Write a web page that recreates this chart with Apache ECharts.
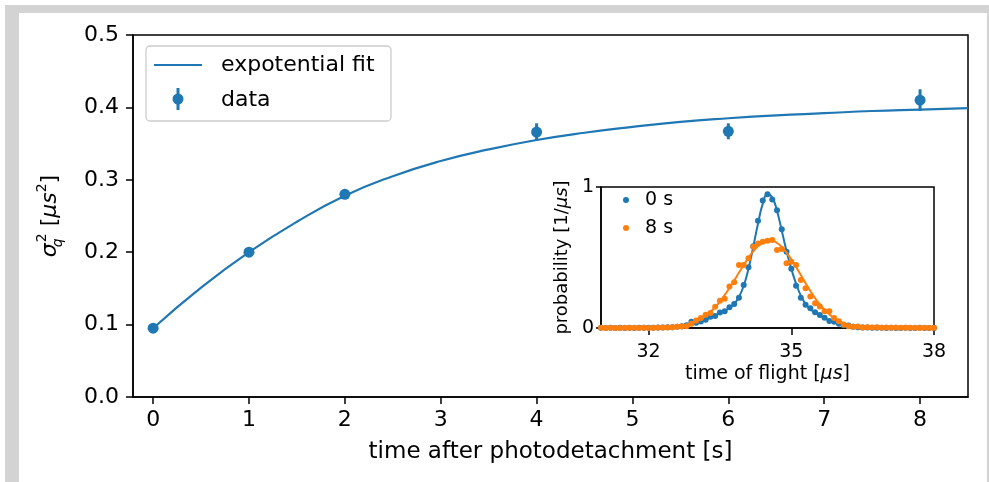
<!DOCTYPE html>
<html>
<head>
<meta charset="utf-8">
<script src="https://cdn.jsdelivr.net/npm/echarts@6/dist/echarts.min.js"></script>
<style>html,body{margin:0;padding:0;background:#fff}#c{width:989px;height:482px}</style>
</head>
<body>
<div id="c"></div>
<script>
// ---- main panel data ----
const mainT = [0, 1, 2, 4, 6, 8];
const mainY = [0.095, 0.200, 0.280, 0.366, 0.367, 0.410];
const mainErr = [0.003, 0.003, 0.004, 0.012, 0.011, 0.015];
const fitT = [0, 0.5, 1, 1.5, 2, 2.5, 3, 3.5, 4, 4.5, 5, 5.5, 6, 6.5, 7, 7.5, 8, 8.5];
const fitY = [0.095, 0.151, 0.200, 0.242, 0.278, 0.305, 0.326, 0.342, 0.355, 0.365, 0.373, 0.380, 0.385, 0.389, 0.392, 0.395, 0.397, 0.399];
const mainXTicks = [0, 1, 2, 3, 4, 5, 6, 7, 8];

// ---- inset data (time of flight distributions) ----
const tof = [31.0,31.1,31.2,31.3,31.4,31.5,31.6,31.7,31.8,31.9,
             32.0,32.1,32.2,32.3,32.4,32.5,32.6,32.7,32.8,32.9,
             33.0,33.1,33.2,33.3,33.4,33.5,33.6,33.7,33.8,33.9,
             34.0,34.1,34.2,34.3,34.4,34.5,34.6,34.7,34.8,34.9,
             35.0,35.1,35.2,35.3,35.4,35.5,35.6,35.7,35.8,35.9,
             36.0,36.1,36.2,36.3,36.4,36.5,36.6,36.7,36.8,36.9,
             37.0,37.1,37.2,37.3,37.4,37.5,37.6,37.7,37.8,37.9,
             38.0];
const p0s = [0.001,0.000,0.001,0.000,0.001,0.000,0.001,0.000,0.001,0.002,
             0.001,0.002,0.003,0.004,0.005,0.006,0.009,0.012,0.020,0.045,
             0.038,0.046,0.058,0.080,0.085,0.110,0.118,0.148,0.170,0.215,
             0.305,0.430,0.580,0.760,0.905,0.948,0.912,0.835,0.700,0.540,
             0.420,0.300,0.215,0.165,0.140,0.112,0.092,0.072,0.050,0.045,
             0.030,0.020,0.018,0.009,0.006,0.003,0.004,0.001,0.002,0.001,
             0.000,0.001,0.000,0.000,0.001,0.000,0.000,0.001,0.000,0.000,
             0.000];
const p0sFit = [0,0,0,0,0,0,0,0,0,0,
             0,0,0,0,0,0.005,0.008,0.013,0.019,0.027,
             0.036,0.047,0.060,0.074,0.089,0.105,0.122,0.143,0.172,0.220,
             0.300,0.420,0.575,0.740,0.880,0.950,0.925,0.830,0.690,0.545,
             0.420,0.315,0.230,0.170,0.132,0.108,0.088,0.070,0.055,0.042,
             0.031,0.022,0.015,0.010,0.006,0.004,0.002,0.001,0,0,
             0,0,0,0,0,0,0,0,0,0,
             0];
const p8s = [0.001,0.000,0.001,0.000,0.000,0.001,0.000,0.001,0.000,0.001,
             0.000,0.002,0.001,0.004,0.003,0.006,0.008,0.010,0.012,0.030,
             0.054,0.071,0.094,0.106,0.150,0.193,0.207,0.294,0.325,0.447,
             0.447,0.494,0.576,0.600,0.612,0.619,0.624,0.553,0.560,0.459,
             0.470,0.447,0.341,0.282,0.224,0.176,0.153,0.118,0.118,0.071,
             0.047,0.024,0.012,0.008,0.010,0.004,0.006,0.003,0.005,0.002,
             0.004,0.002,0.003,0.001,0.002,0.001,0.002,0.000,0.001,0.000,
             0.001];
const p8sFit = [0,0,0,0,0,0,0,0,0,0,
             0,0.001,0.002,0.003,0.004,0.007,0.010,0.015,0.023,0.033,
             0.046,0.064,0.086,0.115,0.148,0.188,0.234,0.284,0.337,0.393,
             0.447,0.498,0.543,0.580,0.605,0.618,0.618,0.603,0.575,0.535,
             0.487,0.433,0.376,0.318,0.263,0.212,0.167,0.128,0.096,0.070,
             0.049,0.034,0.022,0.014,0.009,0.005,0.003,0.002,0.001,0,
             0,0,0,0,0,0,0,0,0,0,
             0];
const insetXTicks = [32, 35, 38];

const BLUE = '#1f77b4', ORANGE = '#ff7f0e';
const FF = 'DejaVu Sans';

const chart = echarts.init(document.getElementById('c'), null, {renderer: 'canvas'});

const axisCommon = {
  axisLine: {show: true, onZero: false, lineStyle: {color: '#000', width: 1.5}},
  splitLine: {show: false},
  nameTextStyle: {color: '#000', fontFamily: FF}
};

const option = {
  backgroundColor: '#fff',
  animation: false,
  grid: [
    {left: 133, top: 35, width: 835, height: 362, show: true, borderColor: '#000', borderWidth: 1.5, backgroundColor: 'transparent'},
    {left: 601, top: 187, width: 333, height: 141, show: true, borderColor: '#000', borderWidth: 1.5, backgroundColor: '#fff'}
  ],
  xAxis: [
    Object.assign({}, axisCommon, {
      type: 'value', gridIndex: 0, min: -0.21, max: 8.5,
      axisTick: {show: true, length: 7, lineStyle: {color: '#000', width: 1.5}, customValues: mainXTicks},
      axisLabel: {customValues: mainXTicks, fontSize: 22, margin: 12, color: '#000', fontFamily: FF},
      name: 'time after photodetachment [s]', nameLocation: 'middle', nameGap: 44,
      nameTextStyle: {color: '#000', fontFamily: FF, fontSize: 23}
    }),
    Object.assign({}, axisCommon, {
      type: 'value', gridIndex: 1, min: 31, max: 38,
      axisTick: {show: true, length: 7, lineStyle: {color: '#000', width: 1.5}, customValues: insetXTicks},
      axisLabel: {customValues: insetXTicks, fontSize: 19, margin: 15, color: '#000', fontFamily: FF},
      name: 'time of flight [{it|μs}]', nameLocation: 'middle', nameGap: 37,
      nameTextStyle: {color: '#000', fontFamily: FF, fontSize: 19,
        rich: {it: {fontStyle: 'italic', fontSize: 19, fontFamily: FF, color: '#000'}}}
    })
  ],
  yAxis: [
    Object.assign({}, axisCommon, {
      type: 'value', gridIndex: 0, min: 0, max: 0.5, interval: 0.1,
      axisTick: {show: true, length: 7, lineStyle: {color: '#000', width: 1.5}},
      axisLabel: {fontSize: 22, margin: 14, color: '#000', fontFamily: FF, formatter: v => v.toFixed(1)},
      name: '{it|σ}{sub|q}{sup|2} [{it|μs}{sup|2}]', nameLocation: 'middle', nameGap: 68,
      nameTextStyle: {color: '#000', fontFamily: FF, fontSize: 22, lineHeight: 30,
        rich: {
          it: {fontStyle: 'italic', fontSize: 22, fontFamily: FF, color: '#000', lineHeight: 30},
          sub: {fontStyle: 'italic', fontSize: 14, fontFamily: FF, color: '#000', lineHeight: 14, verticalAlign: 'bottom', width: 1},
          sup: {fontSize: 14, fontFamily: FF, color: '#000', lineHeight: 14, verticalAlign: 'top'}
        }}
    }),
    Object.assign({}, axisCommon, {
      type: 'value', gridIndex: 1, min: 0, max: 1, interval: 1,
      axisTick: {show: true, length: 5, lineStyle: {color: '#000', width: 1.5}},
      axisLabel: {fontSize: 19, margin: 7, color: '#000', fontFamily: FF},
      name: 'probability [1/{it|μs}]', nameLocation: 'middle', nameGap: 30,
      nameTextStyle: {color: '#000', fontFamily: FF, fontSize: 18,
        rich: {it: {fontStyle: 'italic', fontSize: 18, fontFamily: FF, color: '#000'}}}
    })
  ],
  series: [
    {
      type: 'line', xAxisIndex: 0, yAxisIndex: 0, name: 'expotential fit',
      data: fitT.map((t, i) => [t, fitY[i]]), smooth: true, showSymbol: false,
      lineStyle: {color: BLUE, width: 2.2}, z: 3
    },
    {
      type: 'custom', xAxisIndex: 0, yAxisIndex: 0, name: 'data errors',
      data: mainT.map((t, i) => [t, mainY[i], mainErr[i]]),
      renderItem: function (params, api) {
        const x = api.value(0), y = api.value(1), e = api.value(2);
        const a = api.coord([x, y - e]), b = api.coord([x, y + e]);
        return {type: 'line', shape: {x1: a[0], y1: a[1], x2: b[0], y2: b[1]},
                style: {stroke: BLUE, lineWidth: 3}};
      }, z: 4
    },
    {
      type: 'scatter', xAxisIndex: 0, yAxisIndex: 0, name: 'data',
      data: mainT.map((t, i) => [t, mainY[i]]), symbolSize: 11,
      itemStyle: {color: BLUE, opacity: 1}, z: 5
    },
    {
      type: 'scatter', xAxisIndex: 1, yAxisIndex: 1, name: '0 s',
      data: tof.map((t, i) => [t, p0s[i]]), symbolSize: 6,
      itemStyle: {color: BLUE, opacity: 1}, z: 6
    },
    {
      type: 'line', xAxisIndex: 1, yAxisIndex: 1, name: '0 s fit',
      data: tof.map((t, i) => [t, p0sFit[i]]), smooth: true, showSymbol: false,
      lineStyle: {color: BLUE, width: 2}, z: 6
    },
    {
      type: 'scatter', xAxisIndex: 1, yAxisIndex: 1, name: '8 s',
      data: tof.map((t, i) => [t, p8s[i]]), symbolSize: 6,
      itemStyle: {color: ORANGE, opacity: 1}, z: 7
    },
    {
      type: 'line', xAxisIndex: 1, yAxisIndex: 1, name: '8 s fit',
      data: tof.map((t, i) => [t, p8sFit[i]]), smooth: true, showSymbol: false,
      lineStyle: {color: ORANGE, width: 2}, z: 7
    }
  ],
  graphic: [
    // grey frame
    {type: 'rect', shape: {x: 5, y: 5, width: 984, height: 8}, style: {fill: '#d3d3d3'}, z: 0, silent: true},
    {type: 'rect', shape: {x: 5, y: 5, width: 14, height: 477}, style: {fill: '#d3d3d3'}, z: 0, silent: true},
    {type: 'rect', shape: {x: 987, y: 5, width: 2, height: 477}, style: {fill: '#d3d3d3'}, z: 0, silent: true},
    // main legend
    {type: 'rect', shape: {x: 146, y: 46, width: 245, height: 75, r: 4},
     style: {fill: 'rgba(255,255,255,0.8)', stroke: '#cccccc', lineWidth: 1.3}, z: 10},
    {type: 'line', shape: {x1: 154, y1: 65, x2: 202, y2: 65}, style: {stroke: BLUE, lineWidth: 2.2}, z: 11},
    {type: 'text', x: 221, y: 65, style: {text: 'expotential fit', fill: '#000', font: '22px "DejaVu Sans"', verticalAlign: 'middle'}, z: 11},
    {type: 'line', shape: {x1: 178, y1: 88, x2: 178, y2: 110}, style: {stroke: BLUE, lineWidth: 3}, z: 11},
    {type: 'circle', shape: {cx: 178, cy: 99, r: 5.5}, style: {fill: BLUE}, z: 11},
    {type: 'text', x: 221, y: 100, style: {text: 'data', fill: '#000', font: '22px "DejaVu Sans"', verticalAlign: 'middle'}, z: 11},
    // inset legend
    {type: 'circle', shape: {cx: 626, cy: 200, r: 3}, style: {fill: BLUE}, z: 11},
    {type: 'text', x: 645, y: 200, style: {text: '0 s', fill: '#000', font: '19px "DejaVu Sans"', verticalAlign: 'middle'}, z: 11},
    {type: 'circle', shape: {cx: 626, cy: 228, r: 3}, style: {fill: ORANGE}, z: 11},
    {type: 'text', x: 645, y: 228, style: {text: '8 s', fill: '#000', font: '19px "DejaVu Sans"', verticalAlign: 'middle'}, z: 11}
  ]
};
chart.setOption(option);
</script>
</body>
</html>
